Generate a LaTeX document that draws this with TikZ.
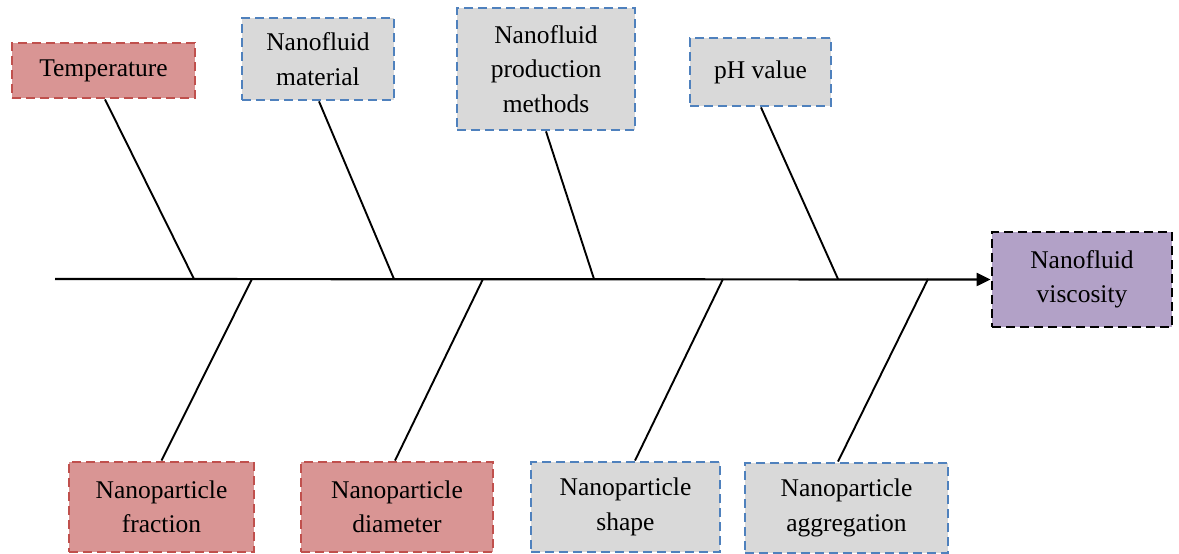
\documentclass[tikz,border=0pt]{standalone}
\usepackage{fontspec}
\setmainfont{Liberation Serif}
\usetikzlibrary{calc,arrows.meta}
\definecolor{redfill}{HTML}{D99594}
\definecolor{redline}{HTML}{C0504D}
\definecolor{grayfill}{HTML}{D9D9D9}
\definecolor{blueline}{HTML}{4F81BD}
\definecolor{purplefill}{HTML}{B2A1C7}
\begin{document}
\begin{tikzpicture}[x=1pt,y=-1pt,
  box/.style={rectangle, line width=2.8pt, dash pattern=on 9pt off 5pt, align=center,
    font=\fontsize{25.5}{34.5}\selectfont, inner sep=0pt},
  redbox/.style={box, draw=redline, fill=redfill},
  graybox/.style={box, draw=blueline, fill=grayfill},
  purplebox/.style={box, draw=black, fill=purplefill},
  rib/.style={line width=1.9pt}]
\useasboundingbox (0,0) rectangle (1179,554);
% boxes (centre positions, sizes in px)
\node[redbox, minimum width=183, minimum height=55] (temp) at (103.5,70.5) {Temperature};
\node[graybox, minimum width=152, minimum height=82] (mat) at (318,59) {Nanofluid\\material};
\node[graybox, minimum width=178, minimum height=122] (prod) at (546,69) {Nanofluid\\production\\methods};
\node[graybox, minimum width=141, minimum height=68] (ph) at (760.5,72) {pH value};
\node[purplebox, minimum width=180, minimum height=95] (visc) at (1082,279.5) {Nanofluid\\viscosity};
\node[redbox, minimum width=185, minimum height=90] (frac) at (161.5,507) {Nanoparticle\\fraction};
\node[redbox, minimum width=192, minimum height=90] (diam) at (397,507) {Nanoparticle\\diameter};
\node[graybox, minimum width=189, minimum height=90] (shape) at (625.5,507) {Nanoparticle\\shape};
\node[graybox, minimum width=203, minimum height=90] (aggr) at (846.5,508) {Nanoparticle\\aggregation};
% spine
\coordinate (tail) at (55,279);
\draw[line width=2.2pt, -{Triangle[length=14pt,width=13pt]}] (tail) -- (visc.west);
% spine points
\coordinate (t1) at (194,279);
\coordinate (t2) at (394,279);
\coordinate (t3) at (594,279);
\coordinate (t4) at (838,279);
\coordinate (b1) at (252,279);
\coordinate (b2) at (483,279);
\coordinate (b3) at (723,279);
\coordinate (b4) at (928,279);
% ribs
\draw[rib] ($(temp.south)+(1.5,0)$) -- (t1);
\draw[rib] ($(mat.south)+(1,0)$) -- (t2);
\draw[rib] (prod.south) -- (t3);
\draw[rib] ($(ph.south)+(0.5,0)$) -- (t4);
\draw[rib] (frac.north) -- (b1);
\draw[rib] ($(diam.north)+(-2,0)$) -- (b2);
\draw[rib] ($(shape.north)+(9.5,0)$) -- (b3);
\draw[rib] ($(aggr.north)+(-8.5,0)$) -- (b4);
\end{tikzpicture}
\end{document}
